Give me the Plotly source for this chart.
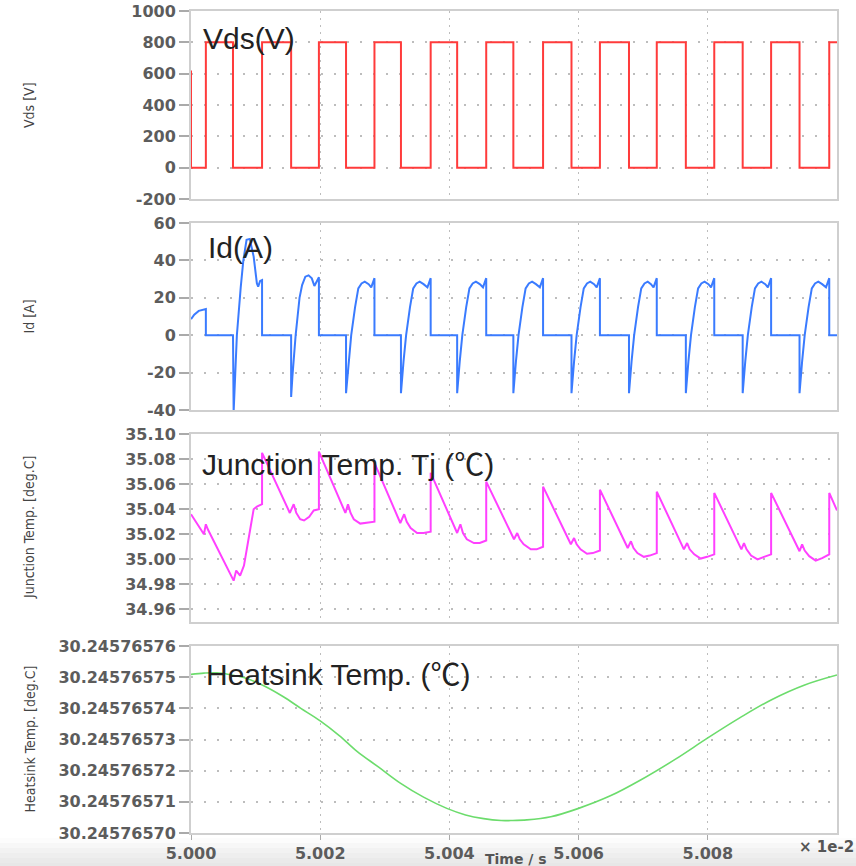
import plotly.graph_objects as go

# ---------------- data (time axis in units of 1e-2 s) ----------------
vds_t = [5.00000, 5.00000, 5.00023, 5.00065, 5.00110, 5.00155, 5.00198, 5.00240,
         5.00284, 5.00325, 5.00371, 5.00412, 5.00457, 5.00499, 5.00545, 5.00589,
         5.00633, 5.00678, 5.00721, 5.00766, 5.00810, 5.00854, 5.00898, 5.00942,
         5.00988, 5.01000]
vds_v = [620, 0, 800, 0, 800, 0, 800, 0, 800, 0, 800, 0, 800, 0, 800, 0,
         800, 0, 800, 0, 800, 0, 800, 0, 800, 800]

id_t = [
    5.00000, 5.00005, 5.00012, 5.00023, 5.00023,
    5.00065, 5.00066, 5.00071, 5.00077, 5.00081, 5.00086, 5.00091, 5.00097, 5.00102, 5.00104, 5.00107, 5.00110, 5.00110,
    5.00155, 5.00155, 5.00157, 5.00159, 5.00162, 5.00165, 5.00168, 5.00172, 5.00177, 5.00182, 5.00187, 5.00191, 5.00195, 5.00198, 5.00198,
    5.00240, 5.00240, 5.00244, 5.00248, 5.00254, 5.00259, 5.00264, 5.00269, 5.00275, 5.00279, 5.00284, 5.00284,
    5.00325, 5.00325, 5.00329, 5.00333, 5.00339, 5.00344, 5.00349, 5.00354, 5.00360, 5.00366, 5.00371, 5.00371,
    5.00412, 5.00412, 5.00416, 5.00420, 5.00426, 5.00431, 5.00436, 5.00441, 5.00447, 5.00452, 5.00457, 5.00457,
    5.00499, 5.00499, 5.00503, 5.00507, 5.00513, 5.00518, 5.00523, 5.00528, 5.00534, 5.00540, 5.00545, 5.00545,
    5.00589, 5.00589, 5.00593, 5.00597, 5.00603, 5.00608, 5.00613, 5.00618, 5.00624, 5.00628, 5.00633, 5.00633,
    5.00678, 5.00678, 5.00682, 5.00686, 5.00692, 5.00697, 5.00702, 5.00707, 5.00712, 5.00716, 5.00721, 5.00721,
    5.00766, 5.00766, 5.00770, 5.00774, 5.00780, 5.00785, 5.00790, 5.00795, 5.00801, 5.00805, 5.00810, 5.00810,
    5.00854, 5.00854, 5.00858, 5.00862, 5.00868, 5.00873, 5.00878, 5.00883, 5.00889, 5.00893, 5.00898, 5.00898,
    5.00942, 5.00942, 5.00946, 5.00950, 5.00956, 5.00961, 5.00966, 5.00971, 5.00977, 5.00983, 5.00988, 5.00988,
    5.01000]
id_v = [
    8.6, 11, 13, 14, 0,
    0, -41, 0, 25.7, 40, 51, 51.5, 42, 27.7, 26, 29, 29.5, 0,
    0, -33, -22, -11.5, 0, 10, 20, 26.8, 31.3, 32, 30.4, 26.3, 28.6, 31, 0,
    0, -31, -14, 0, 15, 25, 27.7, 28.6, 27.3, 25.6, 30.5, 0,
    0, -31, -14, 0, 15, 25, 27.7, 28.6, 27.3, 25.6, 30.5, 0,
    0, -31, -14, 0, 15, 25, 27.7, 28.6, 27.3, 25.6, 30.5, 0,
    0, -31, -14, 0, 15, 25, 27.7, 28.6, 27.3, 25.6, 30.5, 0,
    0, -31, -14, 0, 15, 25, 27.7, 28.6, 27.3, 25.6, 30.5, 0,
    0, -31, -14, 0, 15, 25, 27.7, 28.6, 27.3, 25.6, 30.5, 0,
    0, -31, -14, 0, 15, 25, 27.7, 28.6, 27.3, 25.6, 30.5, 0,
    0, -31, -14, 0, 15, 25, 27.7, 28.6, 27.3, 25.6, 30.5, 0,
    0, -31, -14, 0, 15, 25, 27.7, 28.6, 27.3, 25.6, 30.5, 0,
    0]

tj_t = [
    5.00000, 5.00020, 5.00023, 5.00026, 5.00066, 5.00070, 5.00076, 5.00082, 5.00092, 5.00097, 5.00102, 5.00110, 5.00110,
    5.00153, 5.00159, 5.00163, 5.00169, 5.00175, 5.00183, 5.00190, 5.00198, 5.00198,
    5.00239, 5.00243, 5.00247, 5.00252, 5.00262, 5.00272, 5.00284, 5.00284,
    5.00324, 5.00330, 5.00334, 5.00340, 5.00350, 5.00360, 5.00371, 5.00371,
    5.00412, 5.00417, 5.00421, 5.00427, 5.00438, 5.00447, 5.00457, 5.00457,
    5.00500, 5.00505, 5.00509, 5.00515, 5.00526, 5.00535, 5.00545, 5.00545,
    5.00588, 5.00593, 5.00597, 5.00603, 5.00613, 5.00622, 5.00633, 5.00633,
    5.00676, 5.00681, 5.00685, 5.00691, 5.00701, 5.00710, 5.00721, 5.00721,
    5.00763, 5.00768, 5.00772, 5.00779, 5.00789, 5.00799, 5.00810, 5.00810,
    5.00852, 5.00856, 5.00860, 5.00867, 5.00877, 5.00887, 5.00898, 5.00898,
    5.00942, 5.00946, 5.00950, 5.00957, 5.00967, 5.00977, 5.00988, 5.00988,
    5.01000]
tj_v = [
    35.036, 35.020, 35.028, 35.024, 34.983, 34.991, 34.987, 34.995, 35.025, 35.040, 35.042, 35.044, 35.085,
    35.037, 35.044, 35.037, 35.032, 35.031, 35.034, 35.039, 35.040, 35.086,
    35.037, 35.044, 35.037, 35.032, 35.0285, 35.029, 35.030, 35.077,
    35.029, 35.036, 35.030, 35.025, 35.021, 35.021, 35.022, 35.069,
    35.021, 35.028, 35.021, 35.016, 35.013, 35.013, 35.015, 35.062,
    35.016, 35.021, 35.016, 35.012, 35.008, 35.008, 35.010, 35.058,
    35.012, 35.017, 35.012, 35.008, 35.0044, 35.005, 35.007, 35.0556,
    35.009, 35.0144, 35.009, 35.005, 35.002, 35.003, 35.005, 35.054,
    35.008, 35.013, 35.008, 35.004, 35.0006, 35.002, 35.004, 35.053,
    35.008, 35.013, 35.008, 35.003, 35.000, 35.002, 35.004, 35.053,
    35.0065, 35.012, 35.007, 35.0025, 34.999, 35.001, 35.004, 35.053,
    35.039]

hs_t = [5.00000, 5.00020, 5.00040, 5.00060, 5.00086, 5.00115, 5.00143, 5.00170,
        5.00200, 5.00230, 5.00257, 5.00290, 5.00324, 5.00360, 5.00396, 5.00425,
        5.00453, 5.00480, 5.00495, 5.00520, 5.00557, 5.00600, 5.00650, 5.00696,
        5.00750, 5.00800, 5.00850, 5.00898, 5.00950, 5.01000]
hs_v = [30.2457657509, 30.2457657513, 30.2457657514, 30.2457657508, 30.2457657496,
        30.2457657470, 30.2457657437, 30.2457657400, 30.2457657360, 30.2457657312,
        30.2457657262, 30.2457657212, 30.2457657160, 30.2457657115, 30.2457657079,
        30.2457657058, 30.2457657046, 30.2457657040, 30.2457657040, 30.2457657042,
        30.2457657052, 30.2457657079, 30.2457657120, 30.2457657170, 30.2457657237,
        30.2457657305, 30.2457657370, 30.2457657427, 30.2457657475, 30.2457657507]

x_ticks = [5.000, 5.002, 5.004, 5.006, 5.008]
x_ticklabels = ["5.000", "5.002", "5.004", "5.006", "5.008"]
vds_ticks = [-200, 0, 200, 400, 600, 800, 1000]
vds_ticklabels = ["-200", "0", "200", "400", "600", "800", "1000"]
id_ticks = [-40, -20, 0, 20, 40, 60]
id_ticklabels = ["-40", "-20", "0", "20", "40", "60"]
tj_ticks = [34.96, 34.98, 35.00, 35.02, 35.04, 35.06, 35.08, 35.10]
tj_ticklabels = ["34.96", "34.98", "35.00", "35.02", "35.04", "35.06", "35.08", "35.10"]
hs_ticks = [30.24576570, 30.24576571, 30.24576572, 30.24576573, 30.24576574, 30.24576575, 30.24576576]
hs_ticklabels = ["30.24576570", "30.24576571", "30.24576572", "30.24576573",
                 "30.24576574", "30.24576575", "30.24576576"]

CJK = '<span style="font-family:\'Noto Sans CJK JP\'">℃</span>'
panel_titles = ["Vds(V)", "Id(A)", "Junction Temp. Tj (" + CJK + ")", "Heatsink Temp. (" + CJK + ")"]
axis_titles = ["Vds [V]", "Id [A]", "Junction Temp. [deg.C]", "Heatsink Temp. [deg.C]"]

# ---------------- layout helpers (page margin removed, figure fills window) ----------------
W, H = 856, 866
def fx(px):
    return px / W
def fy(py):
    return 1 - py / H

panels = [(11, 199), (223, 410), (434, 622), (646, 833)]
xdom = [fx(191), fx(837)]

fig = go.Figure()
fig.add_trace(go.Scatter(x=vds_t, y=vds_v, mode="lines", line=dict(color="#ff3b3b", width=2, shape="hv"),
                         xaxis="x", yaxis="y", showlegend=False))
fig.add_trace(go.Scatter(x=id_t, y=id_v, mode="lines", line=dict(color="#3a7bff", width=2),
                         xaxis="x2", yaxis="y2", showlegend=False))
fig.add_trace(go.Scatter(x=tj_t, y=tj_v, mode="lines", line=dict(color="#ff40ff", width=2),
                         xaxis="x3", yaxis="y3", showlegend=False))
fig.add_trace(go.Scatter(x=hs_t, y=hs_v, mode="lines", line=dict(color="#6cdc6c", width=1.6, shape="spline"),
                         xaxis="x4", yaxis="y4", showlegend=False))

tick_font = dict(family="DejaVu Sans", size=16, color="#5c5c5c", weight="bold")
grid_col = "#bdbdbd"
frame_col = "#cfcfcf"

yspecs = [
    ([-200, 1000], vds_ticks, vds_ticklabels),
    ([-40, 60], id_ticks, id_ticklabels),
    ([34.95, 35.10], tj_ticks, tj_ticklabels),
    ([30.24576570, 30.24576576], hs_ticks, hs_ticklabels),
]

layout = dict(width=W, height=H, margin=dict(l=0, r=0, t=0, b=0, autoexpand=False),
              paper_bgcolor="white", plot_bgcolor="white", showlegend=False)

for i, ((top, bot), (rng, tv, tt)) in enumerate(zip(panels, yspecs)):
    n = "" if i == 0 else str(i + 1)
    last = (i == 3)
    layout["xaxis" + n] = dict(
        domain=xdom, range=[5.000, 5.010], anchor="y" + n, automargin=False,
        tickmode="array", tickvals=x_ticks, ticktext=x_ticklabels,
        showticklabels=last, ticks="outside" if last else "", ticklen=5, tickcolor="#aaaaaa",
        tickfont=tick_font,
        showgrid=True, gridcolor=grid_col, gridwidth=1.2, griddash="2px,5px",
        showline=True, linecolor=frame_col, linewidth=2, mirror=True, zeroline=False,
    )
    layout["yaxis" + n] = dict(
        domain=[fy(bot), fy(top)], range=rng, anchor="x" + n, automargin=False,
        tickmode="array", tickvals=tv, ticktext=tt,
        ticks="outside", ticklen=10, tickcolor="#aaaaaa", tickwidth=1.5,
        tickfont=tick_font,
        showgrid=True, gridcolor=grid_col, gridwidth=1.5, griddash="2px,11px",
        showline=True, linecolor=frame_col, linewidth=2, mirror=True, zeroline=False,
    )

annotations = []
title_pos = [(201, 39), (206, 248), (200, 462), (204, 672)]
for txt, (x, y) in zip(panel_titles, title_pos):
    annotations.append(dict(text=txt, x=fx(x), y=fy(y), xref="paper", yref="paper",
                            xanchor="left", yanchor="middle", showarrow=False,
                            font=dict(family="Liberation Sans, Arial, sans-serif", size=30, color="#222222")))
for txt, (top, bot) in zip(axis_titles, panels):
    annotations.append(dict(text=txt, x=fx(29), y=fy((top + bot) / 2), xref="paper", yref="paper",
                            xanchor="center", yanchor="middle", showarrow=False, textangle=-90,
                            font=dict(family="DejaVu Sans Condensed, Liberation Sans Narrow, DejaVu Sans",
                                      size=14, color="#444444")))
annotations.append(dict(text="Time / s", x=fx(516), y=fy(859), xref="paper", yref="paper",
                        xanchor="center", yanchor="middle", showarrow=False,
                        font=dict(family="DejaVu Sans", size=14, color="#555555", weight="bold")))
annotations.append(dict(text="× 1e-2", x=fx(797), y=fy(847), xref="paper", yref="paper",
                        xanchor="left", yanchor="middle", showarrow=False,
                        font=dict(family="DejaVu Sans", size=15, color="#555555", weight="bold")))
layout["annotations"] = annotations

# bottom grey band (stepped gradient)
band_cols = ["#fcfcfc", "#f7f7f7", "#f2f2f2", "#eeeeee", "#eaeaea", "#e7e7e7"]
shapes = []
y0 = 838
for k, c in enumerate(band_cols):
    ya = y0 + k * 5
    yb = ya + 5 if k < len(band_cols) - 1 else H
    shapes.append(dict(type="rect", xref="paper", yref="paper", x0=0, x1=1, y0=fy(yb), y1=fy(ya),
                       fillcolor=c, line=dict(width=0), layer="below"))
layout["shapes"] = shapes

fig.update_layout(**layout)
fig.write_html("out.html", config={"displayModeBar": False},
               post_script="document.body.style.margin='0';document.body.style.overflow='hidden';")
